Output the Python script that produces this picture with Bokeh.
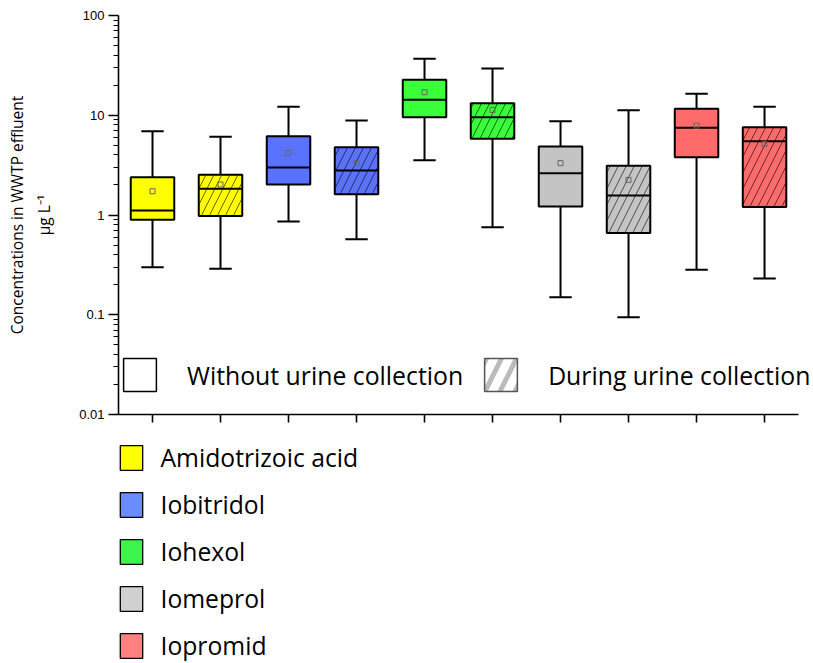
from bokeh.plotting import figure
from bokeh.layouts import column
from bokeh.models import (Range1d, FixedTicker, Legend, LegendItem,
                          CustomJSTickFormatter, ColumnDataSource)
from bokeh.embed import file_html
from bokeh.resources import INLINE

# ---------------- data ----------------
compounds = ["Amidotrizoic acid", "Iobitridol", "Iohexol", "Iomeprol", "Iopromid"]
conditions = ["Without urine collection", "During urine collection"]
positions = [1, 2, 3, 4, 5, 6, 7, 8, 9, 10]
box_compound = [0, 0, 1, 1, 2, 2, 3, 3, 4, 4]
box_condition = [0, 1, 0, 1, 0, 1, 0, 1, 0, 1]

whisker_low = [0.30, 0.29, 0.86, 0.57, 3.54, 0.755, 0.150, 0.0945, 0.282, 0.231]
q1 = [0.895, 0.98, 2.02, 1.61, 9.56, 5.81, 1.22, 0.66, 3.80, 1.20]
median = [1.11, 1.83, 2.99, 2.79, 14.3, 9.56, 2.62, 1.57, 7.48, 5.5]
q3 = [2.39, 2.53, 6.17, 4.78, 22.7, 13.2, 4.86, 3.11, 11.6, 7.59]
whisker_high = [6.9, 6.08, 12.2, 8.85, 36.8, 29.4, 8.71, 11.2, 16.4, 12.2]
mean = [1.73, 2.02, 4.17, 3.31, 17.0, 11.3, 3.31, 2.25, 7.89, 5.17]

y_ticks = [0.01, 0.1, 1, 10, 100]

box_colors = ["#FFFF00", "#5A73FF", "#3BFF3B", "#C4C4C4", "#FF6B6B"]
legend_colors = ["#FFFF00", "#6B8CFF", "#3BF54A", "#D0D0D0", "#FF8080"]

BOX_W = 0.64
CAP_W = 0.33
NAN = float("nan")

# ---------------- main figure ----------------
p = figure(width=813, height=440, y_axis_type="log",
           x_range=Range1d(0.5, 10.72), y_range=Range1d(0.01, 100),
           output_backend="svg", toolbar_location=None,
           min_border_left=118, min_border_right=0,
           min_border_top=15, min_border_bottom=26)
p.outline_line_color = None
p.grid.visible = False
p.background_fill_color = "white"

src = ColumnDataSource(dict(
    x=positions,
    lo=whisker_low, q1=q1, med=median, q3=q3, hi=whisker_high, mean=mean,
    cap0=[x - CAP_W / 2 for x in positions],
    cap1=[x + CAP_W / 2 for x in positions],
    m0=[x - BOX_W / 2 for x in positions],
    m1=[x + BOX_W / 2 for x in positions],
))

# whiskers
p.segment(x0="x", y0="q3", x1="x", y1="hi", source=src, line_color="black", line_width=2)
p.segment(x0="x", y0="q1", x1="x", y1="lo", source=src, line_color="black", line_width=2)
p.segment(x0="cap0", y0="hi", x1="cap1", y1="hi", source=src, line_color="black", line_width=2)
p.segment(x0="cap0", y0="lo", x1="cap1", y1="lo", source=src, line_color="black", line_width=2)

# boxes
for cond in (0, 1):
    idx = [i for i in range(len(positions)) if box_condition[i] == cond]
    s = ColumnDataSource(dict(
        x=[positions[i] for i in idx],
        q1=[q1[i] for i in idx],
        q3=[q3[i] for i in idx],
        color=[box_colors[box_compound[i]] for i in idx],
    ))
    kw = {}
    if cond == 1:
        kw = dict(hatch_pattern="/", hatch_color="black", hatch_weight=0.7,
                  hatch_scale=16, hatch_alpha=0.85)
    p.vbar(x="x", bottom="q1", top="q3", width=BOX_W, source=s,
           fill_color="color", line_color="black", line_width=2, **kw)

# medians
p.segment(x0="m0", y0="med", x1="m1", y1="med", source=src, line_color="black", line_width=2)
# means
p.scatter(x="x", y="mean", source=src, marker="square", size=5,
          fill_alpha=0, line_color="#666666", line_width=1)

# ---------------- axes ----------------
p.xaxis.bounds = (0.5, 10.5)
p.xaxis.ticker = FixedTicker(ticks=positions)
p.xaxis.formatter = CustomJSTickFormatter(code="return '';")
p.xaxis.major_label_standoff = 0
p.xaxis.major_tick_out = 8
p.xaxis.major_tick_in = 0
p.xaxis.minor_tick_out = 0
p.xaxis.axis_line_width = 1.6
p.xaxis.major_tick_line_width = 1.6
p.xaxis.axis_line_color = "black"
p.xaxis.major_tick_line_color = "black"

minor = [m * t for t in y_ticks[:-1] for m in range(2, 10)]
p.yaxis.ticker = FixedTicker(ticks=y_ticks, minor_ticks=minor)
p.yaxis.formatter = CustomJSTickFormatter(code="return tick.toString();")
p.yaxis.major_tick_out = 10
p.yaxis.major_tick_in = 0
p.yaxis.minor_tick_out = 5
p.yaxis.minor_tick_in = 0
p.yaxis.axis_line_width = 1.6
p.yaxis.major_tick_line_width = 1.6
p.yaxis.minor_tick_line_width = 1.2
p.yaxis.axis_line_color = "black"
p.yaxis.major_tick_line_color = "black"
p.yaxis.minor_tick_line_color = "black"
p.yaxis.major_label_text_font = "Liberation Sans"
p.yaxis.major_label_text_font_size = "13px"
p.yaxis.major_label_text_color = "black"
p.yaxis.major_label_standoff = 4
p.yaxis.axis_label = "Concentrations in WWTP effluent\nµg L⁻¹"
p.yaxis.axis_label_text_font = "Open Sans"
p.yaxis.axis_label_text_font_size = "15.5px"
p.yaxis.axis_label_text_font_style = "normal"
p.yaxis.axis_label_text_color = "black"
p.yaxis.axis_label_text_line_height = 1.25
p.yaxis.axis_label_standoff = 21

# ---------------- condition legend (inside plot) ----------------
d_without = p.vbar(x=[NAN], top=[NAN], bottom=[NAN], width=0.5, fill_color="white",
                   line_color="black", line_width=1.5)
d_during = p.vbar(x=[NAN], top=[NAN], bottom=[NAN], width=0.5, fill_color="white",
                  hatch_pattern="/", hatch_color="#BBBBBB", hatch_weight=5,
                  hatch_scale=30, line_color="#555555", line_width=1.5)
leg_cond = Legend(items=[LegendItem(label=conditions[0], renderers=[d_without]),
                         LegendItem(label=conditions[1], renderers=[d_during])],
                  orientation="horizontal", location=(1, 19),
                  glyph_width=41, glyph_height=41, label_height=41,
                  label_standoff=27, spacing=17, padding=0, margin=0,
                  border_line_color=None, background_fill_alpha=0,
                  label_text_font="Open Sans", label_text_font_size="24.8px",
                  label_text_color="black")
p.add_layout(leg_cond)

# ---------------- compound legend (below) ----------------
q = figure(width=813, height=223, x_range=Range1d(0, 1), y_range=Range1d(0, 1),
           output_backend="svg", toolbar_location=None,
           x_axis_location=None, y_axis_location=None,
           min_border=0, min_border_left=118, min_border_right=0,
           min_border_top=0, min_border_bottom=0)
q.outline_line_color = None
q.grid.visible = False

comp_items = []
for name, col in zip(compounds, legend_colors):
    r = q.vbar(x=[NAN], top=[NAN], bottom=[NAN], width=0.5, fill_color=col,
               line_color="black", line_width=1.3)
    comp_items.append(LegendItem(label=name, renderers=[r]))
leg_comp = Legend(items=comp_items, orientation="vertical", location=(-1.5, 1),
                  glyph_width=28, glyph_height=31, label_height=31,
                  label_standoff=16, spacing=14, padding=0, margin=0,
                  border_line_color=None, background_fill_alpha=0,
                  label_text_font="Open Sans", label_text_font_size="24.7px",
                  label_text_color="black")
q.add_layout(leg_comp)

layout = column(p, q, spacing=0)
open("out.html", "w").write(file_html(layout, INLINE))
